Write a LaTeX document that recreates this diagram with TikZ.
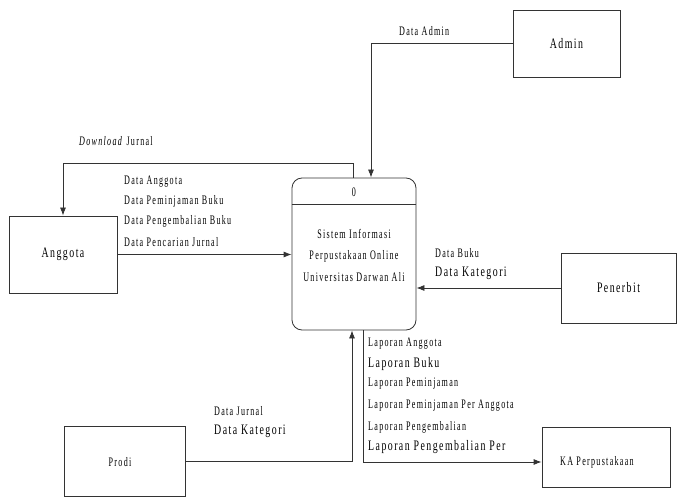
\documentclass[tikz,border=0pt]{standalone}
\usepackage{fontspec}
\setmainfont{Liberation Serif}[FakeStretch=0.62, LetterSpace=10]
\newfontfamily\bigf{Liberation Serif}[FakeStretch=0.68, LetterSpace=10]
\usetikzlibrary{arrows.meta}
\begin{document}
\begin{tikzpicture}[x=1pt,y=-1pt,
  every node/.style={font=\fontsize{13}{15}\selectfont},
  ent/.style={draw=black!80, line width=0.8pt, rectangle, inner sep=0pt},
  lbl/.style={anchor=west, inner sep=0pt, font=\fontsize{13}{15}\selectfont},
  lblb/.style={anchor=west, inner sep=0pt, font=\bigf\fontsize{14.5}{16}\selectfont},
  flow/.style={draw=black!80, line width=0.8pt, -{Latex[length=8pt,width=6pt]}}]
\useasboundingbox (0,0) rectangle (677,497);

% entities
\node[ent, minimum width=107pt, minimum height=67pt, font=\bigf\fontsize{14.5}{16}\selectfont] (admin) at (566.5,43.5) {Admin};
\node[ent, minimum width=108pt, minimum height=77pt, font=\bigf\fontsize{14.5}{16}\selectfont] (anggota) at (63,254.5) {Anggota};
\node[ent, minimum width=115pt, minimum height=70pt, font=\bigf\fontsize{14.5}{16}\selectfont] (penerbit) at (618.5,288) {Penerbit};
\node[ent, minimum width=121pt, minimum height=70pt] (prodi) at (124.5,461) {};
\node[inner sep=0pt] (prodit) at (120,462) {Prodi};
\node[ent, minimum width=128pt, minimum height=60pt] (ka) at (606,457) {};
\node[inner sep=0pt] (katext) at (597,462) {KA Perpustakaan};

% process
\node[ent, rounded corners=10pt, minimum width=124pt, minimum height=152pt] (proc) at (354,254) {};
\draw[black!80, line width=0.8pt] ([yshift=-27pt]proc.north west) -- ([yshift=-27pt]proc.north east);
\node[inner sep=0pt] (pnum) at (354,192) {0};
\node[inner sep=0pt, align=center, font=\fontsize{13}{21.5}\selectfont] (ptext) at (354,255) {Sistem Informasi\\Perpustakaan Online\\Universitas Darwan Ali};

% flows
\draw[flow] (admin.west) -| ([xshift=17pt]proc.north);
\draw[flow] ([xshift=-1pt]proc.north) -- ++(0,-14) -| (anggota.north);
\draw[flow] (anggota.east) -- (anggota.east -| proc.west);
\draw[flow] (penerbit.west) -- (penerbit.west -| proc.east);
\draw[flow] (prodi.east) -| ([xshift=-2pt]proc.south);
\draw[flow] ([xshift=9pt]proc.south) |- ([yshift=-5pt]ka.west);

% labels
\node[lbl] (l1) at (399,31) {Data Admin};
\node[lbl] (l2) at (79,141) {\textit{Download} Jurnal};
\node[lbl] (l3) at (124,182) {Data Anggota};
\node[lbl] (l4) at (124,201) {Data Peminjaman Buku};
\node[lbl] (l5) at (124,221) {Data Pengembalian Buku};
\node[lbl] (l6) at (124,242) {Data Pencarian Jurnal};
\node[lbl] (l7) at (435,253) {Data Buku};
\node[lblb] (l8) at (435,273) {Data Kategori};
\node[lbl] (l9) at (214,411) {Data Jurnal};
\node[lblb] (l10) at (214,431) {Data Kategori};
\node[lbl] (r1) at (368,344) {Laporan Anggota};
\node[lblb] (r2) at (368,364) {Laporan Buku};
\node[lbl] (r3) at (368,384) {Laporan Peminjaman};
\node[lbl] (r4) at (368,406) {Laporan Peminjaman Per Anggota};
\node[lbl] (r5) at (368,427) {Laporan Pengembalian};
\node[lblb] (r6) at (368,447) {Laporan Pengembalian Per};
\end{tikzpicture}
\end{document}
